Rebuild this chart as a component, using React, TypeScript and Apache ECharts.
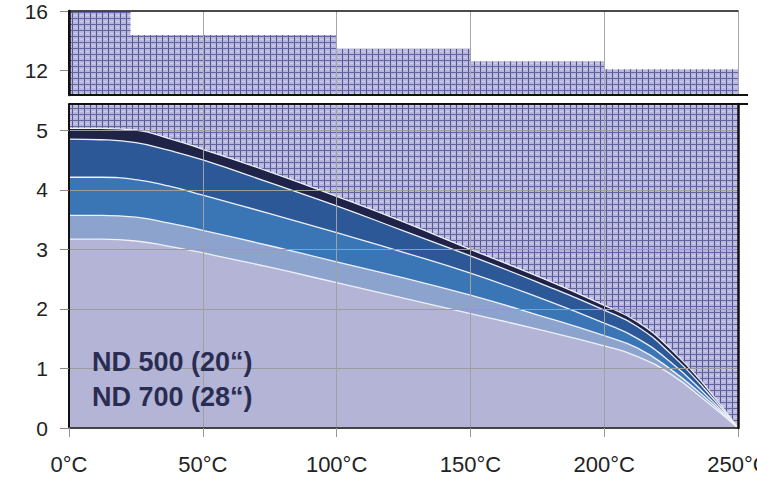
import React, { useEffect, useRef } from "react";
import * as echarts from "echarts";

// Temperature axis
const tempTicks = [0, 50, 100, 150, 200, 250];
// Upper panel: stepped limit
const stepEdges = [0, 23, 100, 150, 200, 250];
const stepLimits = [16, 14.4, 13.45, 12.6, 12.05];
const upperTicks = [12, 16];
const lowerTicks = [0, 1, 2, 3, 4, 5];
// Lower panel: curves
const curveTemps = [0, 12, 25, 37.5, 50, 75, 100, 125, 150, 175, 200, 212.5, 225, 237.5, 250];
const curveTop = [5.03, 5.03, 5.0, 4.86, 4.68, 4.3, 3.89, 3.46, 3.0, 2.55, 2.06, 1.78, 1.32, 0.72, 0];
const curve2 = [4.85, 4.84, 4.79, 4.66, 4.5, 4.12, 3.73, 3.31, 2.89, 2.45, 1.98, 1.7, 1.24, 0.66, 0];
const curve3 = [4.21, 4.21, 4.17, 4.06, 3.91, 3.6, 3.28, 2.95, 2.6, 2.2, 1.76, 1.5, 1.1, 0.58, 0];
const curve4 = [3.57, 3.57, 3.54, 3.44, 3.32, 3.06, 2.79, 2.52, 2.23, 1.9, 1.55, 1.34, 0.98, 0.52, 0];
const curve5 = [3.17, 3.17, 3.14, 3.05, 2.94, 2.7, 2.44, 2.18, 1.92, 1.66, 1.38, 1.2, 0.9, 0.47, 0];
const curveColors = ["#1f2348", "#2d5898", "#3a76b6", "#8ba3cd", "#b4b5d6"];
const legendLines = ["ND 500 (20“)", "ND 700 (28“)"];

const UPPER_MIN = 10.3;
const UPPER_MAX = 16.03;
const LOWER_MAX = 5.44;

function makePattern() {
  const c = document.createElement("canvas");
  c.width = 6;
  c.height = 6;
  const ctx = c.getContext("2d")!;
  ctx.fillStyle = "#b6b6de";
  ctx.fillRect(0, 0, 6, 6);
  ctx.fillStyle = "#cdcdef";
  ctx.fillRect(2, 3, 3, 1);
  ctx.fillStyle = "#56568f";
  ctx.fillRect(0, 0, 1, 6);
  ctx.fillStyle = "#64649e";
  ctx.fillRect(0, 0, 6, 1);
  return { image: c, repeat: "repeat", imageWidth: 6, imageHeight: 6 } as any;
}

export default function App() {
  const ref = useRef<HTMLDivElement>(null);
  useEffect(() => {
    if (!ref.current) return;
    const chart = echarts.init(ref.current, undefined, { renderer: "svg" });
    const pattern = makePattern();
    const stepData: number[][] = [];
    for (let i = 0; i < stepLimits.length; i++) {
      stepData.push([stepEdges[i], stepLimits[i]]);
      stepData.push([stepEdges[i + 1], stepLimits[i]]);
    }
    const curves = [curveTop, curve2, curve3, curve4, curve5];
    const labelFont = { fontFamily: "Liberation Sans, Arial, sans-serif", color: "#222" };

    chart.setOption({
      animation: false,
      backgroundColor: "#ffffff",
      grid: [
        { left: 69, right: 19, top: 11, height: 84, containLabel: false, outerBoundsMode: "none" },
        { left: 69, right: 19, top: 104, bottom: 50, containLabel: false, outerBoundsMode: "none" },
      ],
      xAxis: [
        {
          gridIndex: 0, type: "value", min: 0, max: 250, interval: 50, z: 5,
          axisLine: { show: false }, axisTick: { show: false }, axisLabel: { show: false },
          splitLine: { show: true, lineStyle: { color: "#a8a8a8", width: 1 } },
        },
        {
          gridIndex: 0, type: "value", position: "top", min: 0, max: 250, interval: 50, z: 6,
          axisLine: { show: true, lineStyle: { color: "#111", width: 1.5 } },
          axisTick: { show: false }, axisLabel: { show: false }, splitLine: { show: false },
        },
        {
          gridIndex: 1, type: "value", min: 0, max: 250, interval: 50, z: 5,
          axisLine: { show: true, lineStyle: { color: "#444", width: 2 } },
          axisTick: { show: true, length: 9, lineStyle: { color: "#999" } },
          axisLabel: { ...labelFont, fontSize: 22, margin: 25, formatter: (v: number) => v + "°C" },
          splitLine: { show: true, lineStyle: { color: "#a0a0a0", width: 1 } },
        },
      ],
      yAxis: [
        {
          gridIndex: 0, type: "value", min: UPPER_MIN, max: UPPER_MAX, z: 5,
          axisLine: { show: true, lineStyle: { color: "#111", width: 2 } },
          axisTick: { show: true, length: 9, customValues: upperTicks, lineStyle: { color: "#888" } },
          axisLabel: { ...labelFont, fontSize: 21, margin: 21, customValues: upperTicks },
          splitLine: { show: false },
        },
        {
          gridIndex: 0, type: "value", position: "right", min: UPPER_MIN, max: UPPER_MAX, z: 6,
          axisLine: { show: true, lineStyle: { color: "#111", width: 2.5 } },
          axisTick: { show: false }, axisLabel: { show: false }, splitLine: { show: false },
        },
        {
          gridIndex: 1, type: "value", min: 0, max: LOWER_MAX, interval: 1, z: 5,
          axisLine: { show: true, lineStyle: { color: "#111", width: 2 } },
          axisTick: { show: true, length: 9, customValues: lowerTicks, lineStyle: { color: "#888" } },
          axisLabel: { ...labelFont, fontSize: 21, margin: 21, customValues: lowerTicks },
          splitLine: { show: true, lineStyle: { color: "#9c9c9c", width: 1 } },
        },
        {
          gridIndex: 1, type: "value", position: "right", min: 0, max: LOWER_MAX, z: 6,
          axisLine: { show: true, lineStyle: { color: "#111", width: 2.5 } },
          axisTick: { show: false }, axisLabel: { show: false }, splitLine: { show: false },
        },
      ],
      series: [
        {
          type: "line", xAxisIndex: 0, yAxisIndex: 0, data: stepData, symbol: "none",
          lineStyle: { width: 0 }, areaStyle: { color: pattern, opacity: 1 }, z: 1,
        },
        {
          type: "line", xAxisIndex: 2, yAxisIndex: 2, data: [[0, LOWER_MAX], [250, LOWER_MAX]], symbol: "none",
          lineStyle: { width: 0 }, areaStyle: { color: pattern, opacity: 1 }, z: 1,
        },
        ...curves.map((c, i) => ({
          type: "line", xAxisIndex: 2, yAxisIndex: 2,
          data: curveTemps.map((t, j) => [t, c[j]]),
          symbol: "none", smooth: 0.5,
          lineStyle: { color: "#eef0fa", width: 1.3 },
          areaStyle: { color: curveColors[i], opacity: 1 },
          z: 2,
        })),
      ],
      graphic: [
        { type: "line", z: 100, shape: { x1: 69, y1: 95, x2: 748, y2: 95 }, style: { stroke: "#111", lineWidth: 2 } },
        { type: "line", z: 100, shape: { x1: 69, y1: 104, x2: 748, y2: 104 }, style: { stroke: "#111", lineWidth: 2 } },
        {
          type: "text", z: 100, left: 92, top: 344,
          style: {
            text: legendLines.join("\n"), fill: "#2a2d52", lineHeight: 35,
            font: 'bold 27px "Liberation Sans", Arial, sans-serif',
          },
        },
      ],
    });
    return () => chart.dispose();
  }, []);
  return <div ref={ref} style={{ position: "fixed", left: 0, top: 0, width: 757, height: 478 }} />;
}
